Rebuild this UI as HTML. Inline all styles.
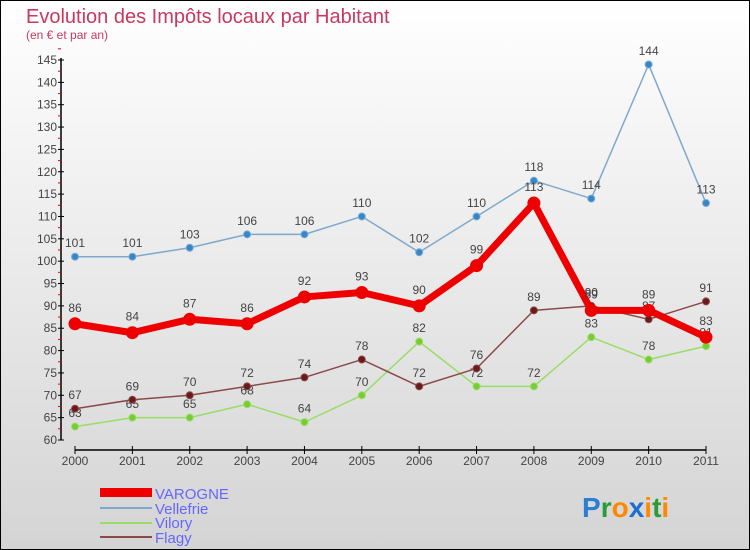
<!DOCTYPE html>
<html><head><meta charset="utf-8"><style>
body{margin:0;}
#wrap{width:750px;height:550px;position:relative;overflow:hidden;}
svg text{font-family:"Liberation Sans",sans-serif;}
</style></head><body>
<div id="wrap">
<svg id="chart" width="750" height="550" xmlns="http://www.w3.org/2000/svg">
<defs><linearGradient id="bg" x1="0" y1="0" x2="0" y2="1"><stop offset="0" stop-color="#ffffff"/><stop offset="1" stop-color="#d4d4d4"/></linearGradient></defs>
<rect x="0.5" y="0.5" width="749" height="549" fill="url(#bg)" stroke="#000"/>
<text x="26" y="23" font-size="20" fill="#c8385f">Evolution des Impôts locaux par Habitant</text>
<text x="26" y="39" font-size="12" fill="#c8385f">(en € et par an)</text>
<g id="axes"></g>
<g id="series"></g>
<g>
<rect x="100" y="488" width="52" height="9" fill="#ee0000"/>
<text x="155" y="499" font-size="15" fill="#6666ff">VAROGNE</text>
<line x1="100" y1="508" x2="152" y2="508" stroke="#7fa9cc" stroke-width="2"/>
<text x="155" y="514" font-size="15" fill="#6666ff">Vellefrie</text>
<line x1="100" y1="523" x2="152" y2="523" stroke="#99dd66" stroke-width="2"/>
<text x="155" y="528" font-size="15" fill="#6666ff">Vilory</text>
<line x1="100" y1="537" x2="152" y2="537" stroke="#8b4a4a" stroke-width="2"/>
<text x="155" y="543" font-size="15" fill="#6666ff">Flagy</text>
</g>
<g font-size="28" font-weight="bold">
<text x="582" y="517"><tspan fill="#2a7fd4">P</tspan><tspan fill="#2a9a3a">r</tspan><tspan fill="#ff8800">o</tspan><tspan fill="#1a6fd0">x</tspan><tspan fill="#ff8800">i</tspan><tspan fill="#2a9a3a">t</tspan><tspan fill="#ff8800">i</tspan></text>
</g>
</svg></div>
<script>
const years=["2000","2001","2002","2003","2004","2005","2006","2007","2008","2009","2010","2011"];
const varogne=[86,84,87,86,92,93,90,99,113,89,89,83];
const vellefrie=[101,101,103,106,106,110,102,110,118,114,144,113];
const vilory=[63,65,65,68,64,70,82,72,72,83,78,81];
const flagy=[67,69,70,72,74,78,72,76,89,90,87,91];
const yTicks=[60,65,70,75,80,85,90,95,100,105,110,115,120,125,130,135,140,145];
const NS="http://www.w3.org/2000/svg";
function X(i){return 75+i*(706-75)/11;}
function Y(v){return 440-(v-60)*(380/85);}
function mk(tag,attrs,parent){const e=document.createElementNS(NS,tag);for(const k in attrs)e.setAttribute(k,attrs[k]);parent.appendChild(e);return e;}
const axes=document.getElementById('axes');
const yaxis=mk('line',{x1:61,y1:Y(145)-2,x2:61,y2:Y(60),stroke:'#000','stroke-width':1.5},axes);


yTicks.forEach(v=>{
 const t=mk('line',{x1:58,y1:Y(v),x2:64,y2:Y(v),stroke:'#000'},axes);
 
 
 const m=mk('line',{x1:58,y1:Y(v+2.5),x2:61,y2:Y(v+2.5),stroke:'#e00'},axes);
 
 
 const l=mk('text',{x:57,y:Y(v)+4,'font-size':12,fill:'#444','text-anchor':'end'},axes);
 l.textContent=v;
 
 
});
const xaxis=mk('line',{x1:X(0),y1:450,x2:X(11),y2:450,stroke:'#000','stroke-width':1.5},axes);


years.forEach((y,i)=>{
 const t=mk('line',{x1:X(i),y1:446,x2:X(i),y2:454,stroke:'#000'},axes);
 
 
 const l=mk('text',{x:X(i),y:465,'font-size':12,fill:'#444','text-anchor':'middle'},axes);
 l.textContent=y;
 
 
});
const sg=document.getElementById('series');
function draw(name,vals,color,dot,width,r){
 const g=mk('g',{},sg);
 
 
 const p=mk('polyline',{points:vals.map((v,i)=>X(i)+','+Y(v)).join(' '),fill:'none',stroke:color,'stroke-width':width,'stroke-linejoin':'round'},g);
 
 
 vals.forEach((v,i)=>{
  const c=mk('circle',{cx:X(i),cy:Y(v),r:r,fill:dot,stroke:color,'stroke-width':1},g);
  
  
  const t=mk('text',{x:X(i),y:Y(v)-(r+6),'font-size':12,fill:'#444','text-anchor':'middle'},g);
  t.textContent=v;
  
  
 });
}
draw('vilory',vilory,'#99dd66','#77cc33',1.5,3.5);
draw('flagy',flagy,'#8b4a4a','#6b1a1a',1.5,3.5);
draw('vellefrie',vellefrie,'#7fa9cc','#3388cc',1.5,3.5);
draw('varogne',varogne,'#ee0000','#ee0000',7,6);
</script>
</body></html>
